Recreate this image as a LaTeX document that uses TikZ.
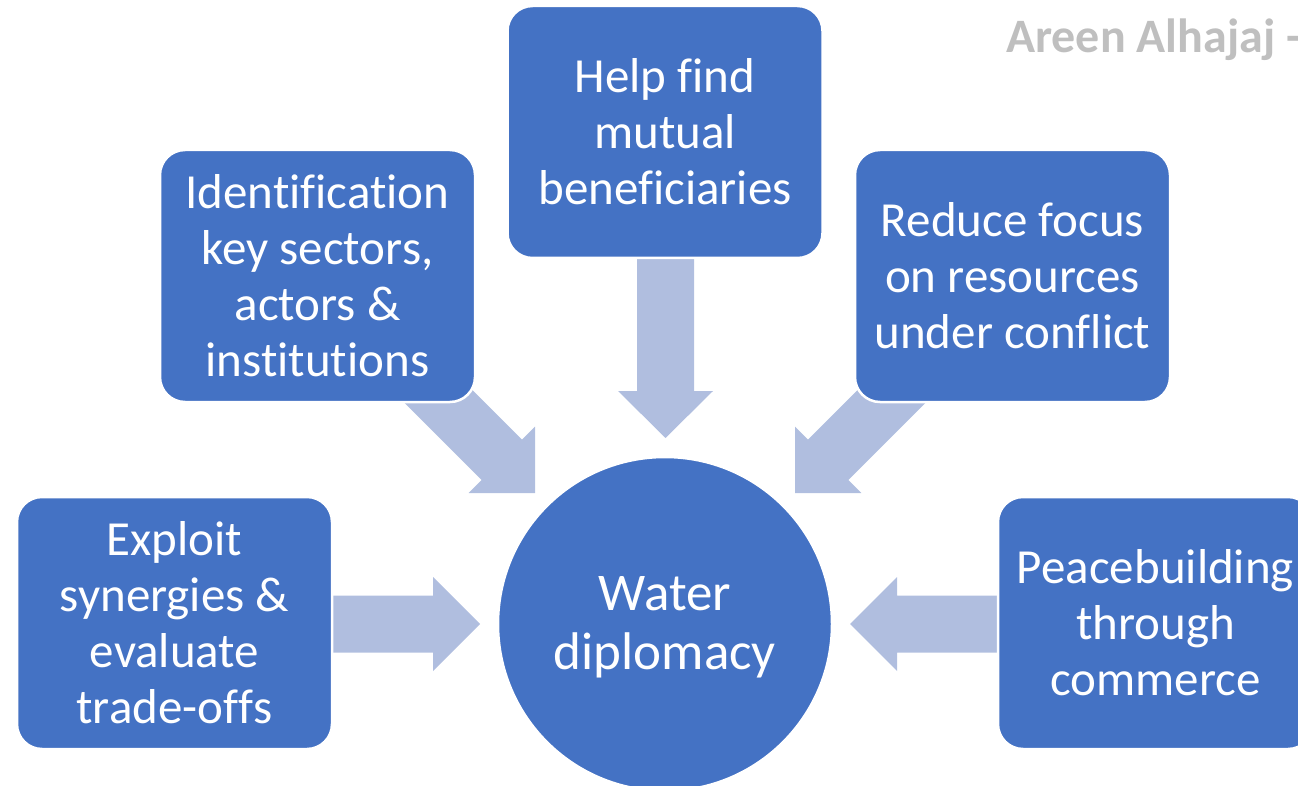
\documentclass[tikz,border=0pt]{standalone}
\usepackage{fontspec}
\setmainfont{Carlito}[Ligatures=NoCommon,RawFeature=-liga]
\definecolor{boxblue}{HTML}{4472C4}
\definecolor{arrowblue}{HTML}{B0BEDF}
\definecolor{titlegray}{HTML}{BFBFBF}
\newcommand{\nl}{\kern0pt{}}
\tikzset{
  idea/.style={draw=white, line width=2.5pt, fill=boxblue, rounded corners=25pt,
    minimum width=315pt, minimum height=252pt, inner sep=0pt, text=white,
    align=center, font=\fontsize{49}{56}\selectfont},
  hub/.style={draw=white, line width=2.5pt, fill=boxblue, circle, minimum size=334pt,
    inner sep=0pt, text=white, align=center, font=\fontsize{53}{59}\selectfont},
  blockarrow/.style={fill=arrowblue, draw=none},
}
\begin{document}
\begin{tikzpicture}[x=1pt,y=-1pt]
\useasboundingbox (0,0) rectangle (1298,786);
% block arrows (drawn first, boxes cover their tails)
\fill[blockarrow] (480,624) -- (433,577) -- (433,595.5) -- (320,595.5) -- (320,652.5) -- (433,652.5) -- (433,671) -- cycle;
\fill[blockarrow] (850,624) -- (897,577) -- (897,595.5) -- (1010,595.5) -- (1010,652.5) -- (897,652.5) -- (897,671) -- cycle;
\fill[blockarrow] (665.5,438) -- (618,391) -- (637,391) -- (637,245) -- (694,245) -- (694,391) -- (713,391) -- cycle;
\fill[blockarrow] (535,493) -- (535,426.54) -- (521.92,439.62) -- (438.48,356.18) -- (398.18,396.48) -- (481.62,479.92) -- (468.54,493) -- cycle;
\fill[blockarrow] (795,493) -- (795,426.54) -- (808.08,439.62) -- (891.52,356.18) -- (931.82,396.48) -- (848.38,479.92) -- (861.46,493) -- cycle;
% boxes
\node[idea] (top) at (665,132) {Help f\nl ind\\mutual\\benef\nl iciaries};
\node[idea] (topleft) at (317.5,276) {Identif\nl ication\\key sectors,\\actors \&\\institutions};
\node[idea] (topright) at (1012.5,276) {Reduce focus\\on resources\\under conf\nl lict};
\node[idea] (left) at (174.5,623) {Exploit\\synergies \&\\evaluate\\trade-of\nl f\nl s};
\node[idea] (right) at (1155.5,623) {Peacebuilding\\through\\commerce};
\node[hub] (water) at (665,624) {\raisebox{-4pt}[\height][\depth]{\begin{tabular}{@{}c@{}}Water\\diplomacy\end{tabular}}};
% author
\node[anchor=base west, inner sep=0pt, text=titlegray, font=\fontsize{48}{56}\selectfont\bfseries] (author) at (1006,53) {Areen Alhajaj -};
\end{tikzpicture}
\end{document}
